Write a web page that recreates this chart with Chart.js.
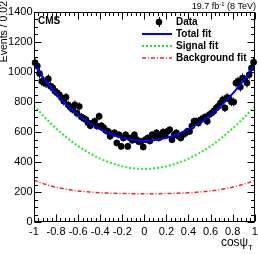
<!DOCTYPE html>
<html><head><meta charset="utf-8">
<script src="https://cdn.jsdelivr.net/npm/chart.js@4.4.0/dist/chart.umd.min.js"></script>
<style>html,body{margin:0;padding:0;background:#fff;}canvas{display:block;}</style>
</head><body>
<canvas id="c" width="258" height="254"></canvas>
<script>
// bin centres of cos(psi_T), width 0.02
const binCenters = [
-0.99,-0.97,-0.95,-0.93,-0.91,-0.89,-0.87,-0.85,-0.83,-0.81,
-0.79,-0.77,-0.75,-0.73,-0.71,-0.69,-0.67,-0.65,-0.63,-0.61,
-0.59,-0.57,-0.55,-0.53,-0.51,-0.49,-0.47,-0.45,-0.43,-0.41,
-0.39,-0.37,-0.35,-0.33,-0.31,-0.29,-0.27,-0.25,-0.23,-0.21,
-0.19,-0.17,-0.15,-0.13,-0.11,-0.09,-0.07,-0.05,-0.03,-0.01,
0.01,0.03,0.05,0.07,0.09,0.11,0.13,0.15,0.17,0.19,
0.21,0.23,0.25,0.27,0.29,0.31,0.33,0.35,0.37,0.39,
0.41,0.43,0.45,0.47,0.49,0.51,0.53,0.55,0.57,0.59,
0.61,0.63,0.65,0.67,0.69,0.71,0.73,0.75,0.77,0.79,
0.81,0.83,0.85,0.87,0.89,0.91,0.93,0.95,0.97,0.99];
// events per bin (data)
const dataCounts = [
1062,1040,990,938,930,923,954,905,895,872,
862,848,828,805,831,780,765,750,782,725,
770,700,690,683,660,642,660,671,640,704,
642,629,610,604,571,590,594,527,582,504,
560,582,504,560,545,582,549,535,538,500,
549,560,540,582,575,594,560,582,600,575,
604,615,549,580,594,571,560,582,590,604,
604,640,671,671,660,682,690,700,671,716,
727,740,760,771,793,815,760,830,820,800,
800,927,938,900,960,950,927,982,1027,1065];
// fit curves sampled at these cos(psi_T) values
const fitX = [-1,-0.9,-0.8,-0.7,-0.6,-0.5,-0.4,-0.3,-0.2,-0.1,0,0.1,0.2,0.3,0.4,0.5,0.6,0.7,0.8,0.9,1];
const totalFit = [1055,948,856,779,713,660,617,585,561,547,542,547,561,585,617,660,713,779,856,945,1048];
const signalFit = [777,696,624,561,506,460,422,393,371,358,353,358,371,393,422,460,506,561,624,693,772];
const backgroundFit = [278,252,232,218,207,200,195,192,190,189,189,189,190,192,195,200,207,218,232,252,276];
const xTickValues = [-1,-0.8,-0.6,-0.4,-0.2,0,0.2,0.4,0.6,0.8,1];
const yTickValues = [0,200,400,600,800,1000,1200,1400];

const FONT = "'Liberation Sans', Arial, Helvetica, sans-serif";

const dataPts = binCenters.map((c,i)=>({x:c,y:dataCounts[i]}));
const errPts = [];
binCenters.forEach((c,i)=>{
  const e = Math.sqrt(dataCounts[i]);
  errPts.push({x:c,y:dataCounts[i]-e},{x:c,y:dataCounts[i]+e},{x:c,y:null});
});
const toXY = arr => fitX.map((c,i)=>({x:c,y:arr[i]}));

const frameTicks = {
  id:'frameTicks',
  afterDraw(chart){
    const {ctx, chartArea:a, scales:{x,y}} = chart;
    ctx.save();
    ctx.strokeStyle='#000'; ctx.lineWidth=1;
    const L=Math.round(a.left)+0.5, R=Math.round(a.right)-0.5, T=Math.round(a.top)+0.5, B=Math.round(a.bottom)-0.5;
    ctx.strokeRect(L,T,R-L,B-T);
    ctx.beginPath();
    for(let k=0;k<=28;k++){
      const v=k*50, py=Math.round(y.getPixelForValue(v))+0.5;
      const len = (k%4===0)?7:3.5;
      ctx.moveTo(L,py); ctx.lineTo(L+len,py);
      ctx.moveTo(R,py); ctx.lineTo(R-len,py);
    }
    for(let k=0;k<=50;k++){
      const v=-1+k*0.04, px=Math.round(x.getPixelForValue(v))+0.5;
      const len = (k%5===0)?7:3.5;
      ctx.moveTo(px,B); ctx.lineTo(px,B-len);
      ctx.moveTo(px,T); ctx.lineTo(px,T+len);
    }
    ctx.stroke();

    ctx.fillStyle='#000';
    ctx.font="bold 10px "+FONT; ctx.textAlign='left'; ctx.textBaseline='alphabetic';
    ctx.fillText('CMS',38,24);
    ctx.font="9px "+FONT; ctx.textAlign='right';
    const p3=' (8 TeV)';
    let xr=256;
    ctx.fillText(p3,xr,9); xr-=ctx.measureText(p3).width;
    ctx.font="6px "+FONT; ctx.fillText('-1',xr,6); xr-=ctx.measureText('-1').width;
    ctx.font="9px "+FONT; ctx.fillText('19.7 fb',xr,9);
    ctx.save();
    ctx.font="10.5px "+FONT; ctx.translate(4,1); ctx.rotate(-Math.PI/2);
    ctx.textAlign='right'; ctx.textBaseline='middle';
    ctx.fillText('Events / 0.02',0,0);
    ctx.restore();
    ctx.font="8px "+FONT; ctx.textAlign='right';
    ctx.fillText('T',253,250);
    const wT=ctx.measureText('T').width;
    ctx.font="12px "+FONT;
    ctx.fillText('cos\u03C8',253-wT,246);

    const ds = chart.data.datasets;
    const rows = [
      {lab:ds[1].label, kind:'data'},
      {lab:ds[0].label, kind:'line', d:ds[0]},
      {lab:ds[3].label, kind:'line', d:ds[3]},
      {lab:ds[4].label, kind:'line', d:ds[4]}
    ];
    rows.forEach((r,i)=>{
      const cy = 22 + i*12;
      if(r.kind==='data'){
        ctx.beginPath(); ctx.arc(159,cy,3.3,0,Math.PI*2); ctx.fillStyle='#000'; ctx.fill();
        ctx.beginPath(); ctx.lineWidth=1; ctx.strokeStyle='#000';
        ctx.moveTo(159.5,cy-5); ctx.lineTo(159.5,cy+5); ctx.stroke();
      } else {
        ctx.beginPath(); ctx.strokeStyle=r.d.borderColor; ctx.lineWidth=r.d.borderWidth;
        ctx.setLineDash(r.d.borderDash||[]);
        ctx.moveTo(142,cy); ctx.lineTo(172,cy); ctx.stroke(); ctx.setLineDash([]);
      }
      ctx.fillStyle='#000'; ctx.font="bold 10px "+FONT; ctx.textAlign='left'; ctx.textBaseline='middle';
      ctx.fillText(r.lab,176,cy);
    });
    ctx.restore();
  }
};

new Chart(document.getElementById('c'),{
  type:'line',
  data:{datasets:[
    {label:'Total fit', data:toXY(totalFit), borderColor:'#0000ff', borderWidth:2, pointRadius:0, cubicInterpolationMode:'monotone', order:0},
    {label:'Data', data:dataPts, showLine:false, pointRadius:3.3, pointHoverRadius:0, pointBackgroundColor:'#000', pointBorderWidth:0, borderColor:'#000', order:1, clip:4},
    {label:'Data errors', data:errPts, borderColor:'#000', borderWidth:1, pointRadius:0, spanGaps:false, order:2, clip:4},
    {label:'Signal fit', data:toXY(signalFit), borderColor:'#22ee22', borderWidth:2, borderDash:[2,2], pointRadius:0, cubicInterpolationMode:'monotone', order:3},
    {label:'Background fit', data:toXY(backgroundFit), borderColor:'#ff2020', borderWidth:1.5, borderDash:[4,2,1,2], pointRadius:0, cubicInterpolationMode:'monotone', order:4}
  ]},
  options:{
    responsive:false, animation:false, devicePixelRatio:1,
    layout:{padding:{top:12,right:2,left:0,bottom:0}},
    plugins:{legend:{display:false}, tooltip:{enabled:false}},
    events:[],
    scales:{
      x:{type:'linear', min:-1, max:1,
        afterFit(s){s.height=32; s.paddingLeft=0; s.paddingRight=0;},
        afterBuildTicks(s){s.ticks = xTickValues.map(v=>({value:v}));},
        grid:{display:false, drawTicks:false}, border:{display:false},
        ticks:{autoSkip:false, maxRotation:0, padding:3, color:'#000', font:{family:FONT,size:11},
          callback:v=>String(Math.round(v*10)/10)}},
      y:{type:'linear', min:0, max:1400,
        afterFit(s){s.width=34; s.paddingTop=0; s.paddingBottom=0;},
        afterBuildTicks(s){s.ticks = yTickValues.map(v=>({value:v}));},
        grid:{display:false, drawTicks:false}, border:{display:false},
        ticks:{autoSkip:false, padding:1.5, color:'#000', font:{family:FONT,size:11},
          callback:v=>String(v)}}
    }
  },
  plugins:[frameTicks]
});
</script>
</body></html>
